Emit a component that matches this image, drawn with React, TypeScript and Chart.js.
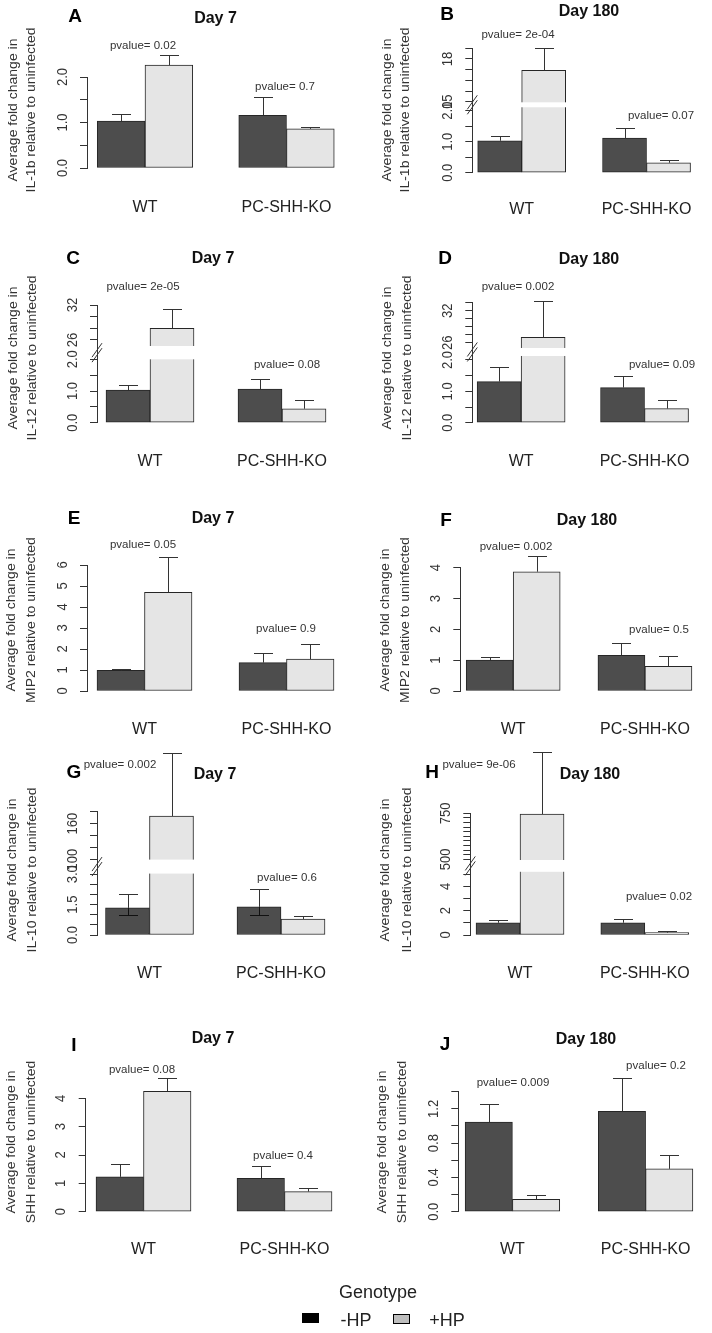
import React, { useEffect, useRef } from "react";
import { Chart, registerables } from "chart.js";

Chart.register(...registerables);

const FONT = "'Liberation Sans', Arial, Helvetica, sans-serif";

// ---------- shared labels ----------
const groups = ["WT", "PC-SHH-KO"];
const seriesLabels = ["-HP", "+HP"];
const legendTitle = "Genotype";
const yTitleTop = "Average fold change in";

// ---------- Panel A: IL-1b, Day 7 ----------
const A_negHP = [1.03, 1.16];
const A_negHPErr = [1.19, 1.56];
const A_posHP = [2.26, 0.86];
const A_posHPErr = [2.48, 0.9];
const A_pvalues = ["pvalue= 0.02", "pvalue= 0.7"];
const A_ticks = [0, 0.5, 1, 1.5, 2];
const A_tickLabels = ["0.0", "", "1.0", "", "2.0"];

// ---------- Panel B: IL-1b, Day 180 ----------
const B_negHP = [1.03, 1.12];
const B_negHPErr = [1.19, 1.43];
const B_posHP = [17.2, 0.32];
const B_posHPErr = [18.75, 0.4];
const B_pvalues = ["pvalue= 2e-04", "pvalue= 0.07"];
const B_ticks = [0, 0.5, 1, 1.5, 2, 15, 15.75, 16.5, 17.25, 18, 18.75];
const B_tickLabels = ["0.0", "", "1.0", "", "2.0", "15", "", "", "", "18", ""];
const B_break = [2, 15];

// ---------- Panel C: IL-12, Day 7 ----------
const C_negHP = [1.03, 1.06];
const C_negHPErr = [1.18, 1.37];
const C_posHP = [28.0, 0.44];
const C_posHPErr = [31.3, 0.71];
const C_pvalues = ["pvalue= 2e-05", "pvalue= 0.08"];
const C_ticks = [0, 0.5, 1, 1.5, 2, 26, 28, 30, 32];
const C_tickLabels = ["0.0", "", "1.0", "", "2.0", "26", "", "", "32"];
const C_break = [2, 26];

// ---------- Panel D: IL-12, Day 180 ----------
const D_negHP = [1.31, 1.12];
const D_negHPErr = [1.78, 1.5];
const D_posHP = [27.0, 0.45];
const D_posHPErr = [33.9, 0.71];
const D_pvalues = ["pvalue= 0.002", "pvalue= 0.09"];
const D_ticks = [0, 0.5, 1, 1.5, 2, 26, 27.5, 29, 30.5, 32, 33.5];
const D_tickLabels = ["0.0", "", "1.0", "", "2.0", "26", "", "", "", "32", ""];
const D_break = [2, 26];

// ---------- Panel E: MIP2, Day 7 ----------
const E_negHP = [0.98, 1.35];
const E_negHPErr = [1.05, 1.81];
const E_posHP = [4.7, 1.52];
const E_posHPErr = [6.4, 2.22];
const E_pvalues = ["pvalue= 0.05", "pvalue= 0.9"];
const E_ticks = [0, 1, 2, 3, 4, 5, 6];
const E_tickLabels = ["0", "1", "2", "3", "4", "5", "6"];

// ---------- Panel F: MIP2, Day 180 ----------
const F_negHP = [1.0, 1.16];
const F_negHPErr = [1.09, 1.55];
const F_posHP = [3.87, 0.8];
const F_posHPErr = [4.37, 1.15];
const F_pvalues = ["pvalue= 0.002", "pvalue= 0.5"];
const F_ticks = [0, 1, 2, 3, 4];
const F_tickLabels = ["0", "1", "2", "3", "4"];

// ---------- Panel G: IL-10, Day 7 ----------
const G_negHP = [1.34, 1.39];
const G_negHPErr = [2.0, 2.25];
const G_negHPInner = [0.98, 0.98];
const G_posHP = [172.7, 0.79];
const G_posHPErr = [279, 0.95];
const G_pvalues = ["pvalue= 0.002", "pvalue= 0.6"];
const G_ticks = [0, 0.5, 1, 1.5, 2, 2.5, 3, 100, 120, 140, 160, 180];
const G_tickLabels = ["0.0", "", "", "1.5", "", "", "3.0", "100", "", "", "160", ""];
const G_break = [3, 100];

// ---------- Panel H: IL-10, Day 180 ----------
const H_negHP = [1.01, 1.01];
const H_negHPErr = [1.24, 1.32];
const H_posHP = [746, 0.19];
const H_posHPErr = [1083, 0.3];
const H_pvalues = ["pvalue= 9e-06", "pvalue= 0.02"];
const H_ticks = [0, 1, 2, 3, 4, 5, 500, 525, 550, 575, 600, 625, 650, 675, 700, 725, 750];
const H_tickLabels = ["0", "", "2", "", "4", "", "500", "", "", "", "", "", "", "", "", "", "750"];
const H_break = [5, 500];

// ---------- Panel I: SHH, Day 7 ----------
const I_negHP = [1.23, 1.18];
const I_negHPErr = [1.69, 1.61];
const I_posHP = [4.25, 0.71];
const I_posHPErr = [4.73, 0.85];
const I_pvalues = ["pvalue= 0.08", "pvalue= 0.4"];
const I_ticks = [0, 1, 2, 3, 4];
const I_tickLabels = ["0", "1", "2", "3", "4"];

// ---------- Panel J: SHH, Day 180 ----------
const J_negHP = [1.045, 1.17];
const J_negHPErr = [1.26, 1.56];
const J_posHP = [0.144, 0.5];
const J_posHPErr = [0.2, 0.66];
const J_pvalues = ["pvalue= 0.009", "pvalue= 0.2"];
const J_ticks = [0, 0.2, 0.4, 0.6, 0.8, 1.0, 1.2, 1.4];
const J_tickLabels = ["0.0", "", "0.4", "", "0.8", "", "1.2", ""];

// ---------- styling / layout ----------
const BAR_COLORS = ["#4d4d4d", "#e5e5e5"];
const EDGE = "#262626";
const AXIS = "#333333";
const PANEL_W = 356;
const CANVAS_H = 275;
const CHART_RIGHT = 352;

type Layout = {
  col: number; canvasTop: number; axisX: number; y0: number; yTop: number;
  c: number[]; barW: number; catY: number; pv: number[][];
  title: number[]; letter: number[]; yTitleX: number[]; yTitleY: number;
  gap?: number; ratio?: number; band?: number[];
};

type PanelDef = {
  letter: string; title: string; gene: string;
  neg: number[]; negErr: number[]; pos: number[]; posErr: number[]; negInner?: number[];
  pvalues: string[]; ticks: number[]; tickLabels: string[]; brk?: number[]; L: Layout;
};

const panels: PanelDef[] = [
  { letter: "A", title: "Day 7", gene: "IL-1b", neg: A_negHP, negErr: A_negHPErr, pos: A_posHP, posErr: A_posHPErr,
    pvalues: A_pvalues, ticks: A_ticks, tickLabels: A_tickLabels,
    L: { col: 0, canvasTop: 0, axisX: 87, y0: 168, yTop: 77, c: [145, 286.5], barW: 47.75, catY: 200,
      pv: [[143, 46], [285, 87]], title: [215.5, 19], letter: [75, 16.3], yTitleX: [13.3, 32], yTitleY: 110 } },
  { letter: "B", title: "Day 180", gene: "IL-1b", neg: B_negHP, negErr: B_negHPErr, pos: B_posHP, posErr: B_posHPErr,
    pvalues: B_pvalues, ticks: B_ticks, tickLabels: B_tickLabels, brk: B_break,
    L: { col: 1, canvasTop: 0, axisX: 472.3, y0: 172.7, yTop: 48.3, c: [524.5, 656.5], barW: 44, catY: 202,
      pv: [[518, 35], [661, 116]], title: [589, 12], letter: [447, 15], yTitleX: [387.7, 406], yTitleY: 110,
      gap: 0.29, ratio: 0.459, band: [2.11, 2.27] } },
  { letter: "C", title: "Day 7", gene: "IL-12", neg: C_negHP, negErr: C_negHPErr, pos: C_posHP, posErr: C_posHPErr,
    pvalues: C_pvalues, ticks: C_ticks, tickLabels: C_tickLabels, brk: C_break,
    L: { col: 0, canvasTop: 235, axisX: 97, y0: 422.7, yTop: 305, c: [150, 282], barW: 44, catY: 454,
      pv: [[143, 287], [287, 365]], title: [213, 259], letter: [73, 258.5], yTitleX: [13.3, 33], yTitleY: 358,
      gap: 0.609, ratio: 0.184, band: [2.0, 2.42] } },
  { letter: "D", title: "Day 180", gene: "IL-12", neg: D_negHP, negErr: D_negHPErr, pos: D_posHP, posErr: D_posHPErr,
    pvalues: D_pvalues, ticks: D_ticks, tickLabels: D_tickLabels, brk: D_break,
    L: { col: 1, canvasTop: 235, axisX: 472.3, y0: 422.7, yTop: 302.7, c: [524.5, 656.5], barW: 44, catY: 454,
      pv: [[518, 287], [662, 365]], title: [589, 260], letter: [445, 258.5], yTitleX: [387.7, 408], yTitleY: 358,
      gap: 0.552, ratio: 0.17, band: [2.128, 2.383] } },
  { letter: "E", title: "Day 7", gene: "MIP2", neg: E_negHP, negErr: E_negHPErr, pos: E_posHP, posErr: E_posHPErr,
    pvalues: E_pvalues, ticks: E_ticks, tickLabels: E_tickLabels,
    L: { col: 0, canvasTop: 495, axisX: 87, y0: 691, yTop: 565, c: [144.5, 286.5], barW: 47.5, catY: 722,
      pv: [[143, 545], [286, 629]], title: [213, 519], letter: [74, 518.5], yTitleX: [11.7, 32], yTitleY: 620 } },
  { letter: "F", title: "Day 180", gene: "MIP2", neg: F_negHP, negErr: F_negHPErr, pos: F_posHP, posErr: F_posHPErr,
    pvalues: F_pvalues, ticks: F_ticks, tickLabels: F_tickLabels,
    L: { col: 1, canvasTop: 495, axisX: 460.3, y0: 691, yTop: 567.7, c: [517.5, 660], barW: 47, catY: 722,
      pv: [[516, 547], [659, 630]], title: [587, 521], letter: [446, 521], yTitleX: [386, 406], yTitleY: 620 } },
  { letter: "G", title: "Day 7", gene: "IL-10", neg: G_negHP, negErr: G_negHPErr, pos: G_posHP, posErr: G_posHPErr,
    negInner: G_negHPInner, pvalues: G_pvalues, ticks: G_ticks, tickLabels: G_tickLabels, brk: G_break,
    L: { col: 0, canvasTop: 730, axisX: 97, y0: 935, yTop: 811.7, c: [149.5, 281], barW: 44, catY: 966,
      pv: [[120, 765], [287, 878]], title: [215, 775], letter: [74, 773], yTitleX: [13, 33], yTitleY: 870,
      gap: 0.723, ratio: 0.0295, band: [3.03, 3.72] } },
  { letter: "H", title: "Day 180", gene: "IL-10", neg: H_negHP, negErr: H_negHPErr, pos: H_posHP, posErr: H_posHPErr,
    pvalues: H_pvalues, ticks: H_ticks, tickLabels: H_tickLabels, brk: H_break,
    L: { col: 1, canvasTop: 730, axisX: 470.3, y0: 935, yTop: 813.3, c: [522.7, 654.2], barW: 44, catY: 966,
      pv: [[479, 765], [659, 897]], title: [590, 775], letter: [432, 773], yTitleX: [386, 408], yTitleY: 870,
      gap: 1.237, ratio: 0.01517, band: [5.21, 6.18] } },
  { letter: "I", title: "Day 7", gene: "SHH", neg: I_negHP, negErr: I_negHPErr, pos: I_posHP, posErr: I_posHPErr,
    pvalues: I_pvalues, ticks: I_ticks, tickLabels: I_tickLabels,
    L: { col: 0, canvasTop: 1010, axisX: 85.7, y0: 1211.7, yTop: 1098.3, c: [143.5, 284.5], barW: 47.5, catY: 1242,
      pv: [[142, 1070], [283, 1156]], title: [213, 1039], letter: [74, 1045.5], yTitleX: [11.7, 31.7], yTitleY: 1142 } },
  { letter: "J", title: "Day 180", gene: "SHH", neg: J_negHP, negErr: J_negHPErr, pos: J_posHP, posErr: J_posHPErr,
    pvalues: J_pvalues, ticks: J_ticks, tickLabels: J_tickLabels,
    L: { col: 1, canvasTop: 1010, axisX: 458.3, y0: 1211.7, yTop: 1091.7, c: [515.8, 657.3], barW: 47.3, catY: 1242,
      pv: [[513, 1083], [656, 1066]], title: [586, 1040], letter: [445, 1045], yTitleX: [382.7, 402.7], yTitleY: 1142 } },
];

// broken-axis transform: real value -> display value on the linear scale
function disp(p: PanelDef, v: number): number {
  if (!p.brk || v <= p.brk[0]) return v;
  return p.brk[0] + (p.L.gap as number) + (v - p.brk[1]) * (p.L.ratio as number);
}

function drawText(ctx: CanvasRenderingContext2D, s: string, x: number, y: number,
  o: { size: number; bold?: boolean; color?: string; rotate?: boolean; across?: number; baseline?: CanvasTextBaseline; align?: CanvasTextAlign }) {
  ctx.save();
  ctx.font = `${o.bold ? "bold " : ""}${o.size}px ${FONT}`;
  ctx.fillStyle = o.color ?? "#222";
  ctx.textAlign = o.align ?? "center";
  ctx.textBaseline = o.baseline ?? "middle";
  ctx.translate(x, y);
  if (o.rotate) ctx.rotate(-Math.PI / 2);
  if (o.across) ctx.scale(1, o.across);
  ctx.fillText(s, 0, 0);
  ctx.restore();
}

function makeDecor(p: PanelDef) {
  const L = p.L;
  const lx = (x: number) => x - L.col * PANEL_W;
  const ly = (y: number) => y - L.canvasTop;
  return {
    id: "decor" + p.letter,
    afterDatasetsDraw(chart: any) {
      const ctx: CanvasRenderingContext2D = chart.ctx;
      const ys = chart.scales.y;
      const series = [p.neg, p.pos];
      const errs = [p.negErr, p.posErr];
      ctx.save();
      // white gap through bars crossing the axis break
      if (p.brk && L.band) {
        const yA = ys.getPixelForValue(L.band[0]);
        const yB = ys.getPixelForValue(L.band[1]);
        series.forEach((vals, di) => {
          const meta = chart.getDatasetMeta(di);
          meta.data.forEach((el: any, i: number) => {
            if (disp(p, vals[i]) > (L.band as number[])[1]) {
              const w = el.width;
              ctx.fillStyle = "#ffffff";
              ctx.fillRect(el.x - w / 2 - 1.5, yB, w + 3, yA - yB);
            }
          });
        });
        // break slashes on the axis
        const yc = (yA + yB) / 2;
        const ax = chart.chartArea.left;
        ctx.strokeStyle = AXIS;
        ctx.lineWidth = 1;
        for (const o of [-2.5, 2.5]) {
          ctx.beginPath();
          ctx.moveTo(ax - 5, yc + 7 + o);
          ctx.lineTo(ax + 5, yc - 7 + o);
          ctx.stroke();
        }
      }
      // error bars (upper)
      ctx.strokeStyle = AXIS;
      ctx.lineWidth = 1;
      const capHalf = 9.5;
      series.forEach((vals, di) => {
        const meta = chart.getDatasetMeta(di);
        meta.data.forEach((el: any, i: number) => {
          const x = Math.round(el.x) + 0.5;
          const top = Math.round(ys.getPixelForValue(disp(p, errs[di][i]))) + 0.5;
          ctx.beginPath();
          ctx.moveTo(x, el.y);
          ctx.lineTo(x, top);
          ctx.moveTo(x - capHalf, top);
          ctx.lineTo(x + capHalf, top);
          ctx.stroke();
          if (di === 0 && p.negInner) {
            const yi = Math.round(ys.getPixelForValue(disp(p, p.negInner[i]))) + 0.5;
            ctx.strokeStyle = "#111";
            ctx.beginPath();
            ctx.moveTo(x - capHalf, yi);
            ctx.lineTo(x + capHalf, yi);
            ctx.moveTo(x, yi);
            ctx.lineTo(x, el.y);
            ctx.stroke();
            ctx.strokeStyle = AXIS;
          }
        });
      });
      ctx.restore();
    },
    afterDraw(chart: any) {
      const ctx: CanvasRenderingContext2D = chart.ctx;
      const ys = chart.scales.y;
      // y tick labels (rotated, R style)
      p.ticks.forEach((t, i) => {
        const lab = p.tickLabels[i];
        if (!lab) return;
        drawText(ctx, lab, lx(L.axisX - 20.5), ys.getPixelForValue(disp(p, t)),
          { size: 13, rotate: true, across: 1.15, baseline: "alphabetic", color: "#333" });
      });
      // y axis title (two lines)
      drawText(ctx, yTitleTop, lx(L.yTitleX[0]), ly(L.yTitleY), { size: 14, rotate: true, across: 0.88, color: "#333" });
      drawText(ctx, `${p.gene} relative to uninfected`, lx(L.yTitleX[1]), ly(L.yTitleY), { size: 14, rotate: true, across: 0.88, color: "#333" });
      // panel title and letter
      drawText(ctx, p.title, lx(L.title[0]), ly(L.title[1]), { size: 16, bold: true, color: "#111" });
      drawText(ctx, p.letter, lx(L.letter[0]), ly(L.letter[1]), { size: 19, bold: true, color: "#000" });
      // p-values
      p.pvalues.forEach((s, i) => {
        drawText(ctx, s, lx(L.pv[i][0]), ly(L.pv[i][1]), { size: 11.5, color: "#333" });
      });
    },
  };
}

function buildConfig(p: PanelDef): any {
  const L = p.L;
  const colX = L.col * PANEL_W;
  const unit = L.c[1] - L.c[0];
  const xMin = 1 - (L.c[0] - L.axisX) / unit;
  const xMax = 2 + (colX + CHART_RIGHT - L.c[1]) / unit;
  const yMax = disp(p, p.ticks[p.ticks.length - 1]);
  const y0Local = L.y0 - L.canvasTop;
  const mk = (vals: number[]) => vals.map((v, i) => ({ x: i + 1, y: disp(p, v) }));
  return {
    type: "bar",
    data: {
      datasets: [
        { label: seriesLabels[0], data: mk(p.neg), backgroundColor: BAR_COLORS[0], borderColor: EDGE,
          borderWidth: 1, borderSkipped: false, barThickness: L.barW, clip: false },
        { label: seriesLabels[1], data: mk(p.pos), backgroundColor: BAR_COLORS[1], borderColor: EDGE,
          borderWidth: 1, borderSkipped: false, barThickness: L.barW, clip: false },
      ],
    },
    options: {
      animation: false,
      responsive: false,
      maintainAspectRatio: false,
      events: [],
      layout: {
        autoPadding: false,
        padding: { left: 0, top: L.yTop - L.canvasTop, right: PANEL_W - CHART_RIGHT, bottom: 0 },
      },
      plugins: { legend: { display: false }, title: { display: false }, tooltip: { enabled: false } },
      scales: {
        x: {
          type: "linear", min: xMin, max: xMax, offset: false,
          grid: { display: false }, border: { display: false },
          afterBuildTicks: (s: any) => { s.ticks = [{ value: 1 }, { value: 2 }]; },
          afterFit: (s: any) => { s.height = CANVAS_H - y0Local; },
          ticks: {
            autoSkip: false, maxRotation: 0, minRotation: 0,
            padding: L.catY - L.y0 - 9.6,
            font: { family: FONT, size: 16 }, color: "#222",
            callback: (_v: any, i: number) => groups[i],
          },
        },
        y: {
          type: "linear", min: 0, max: yMax,
          afterBuildTicks: (s: any) => { s.ticks = p.ticks.map((t) => ({ value: disp(p, t) })); },
          afterFit: (s: any) => { s.width = L.axisX - colX; },
          grid: { display: true, drawOnChartArea: false, drawTicks: true, tickLength: 7, color: AXIS, lineWidth: 1 },
          border: { display: true, color: AXIS, width: 1 },
          ticks: { display: false },
        },
      },
    },
    plugins: [makeDecor(p)],
  };
}

function Panel({ p }: { p: PanelDef }) {
  const ref = useRef<HTMLCanvasElement>(null);
  useEffect(() => {
    const chart = new Chart(ref.current as HTMLCanvasElement, buildConfig(p));
    return () => chart.destroy();
  }, [p]);
  return (
    <canvas
      ref={ref}
      width={PANEL_W}
      height={CANVAS_H}
      style={{ position: "absolute", left: p.L.col * PANEL_W, top: p.L.canvasTop, width: PANEL_W, height: CANVAS_H }}
    />
  );
}

const centered = (cx: number, cy: number, size: number): React.CSSProperties => ({
  position: "absolute", left: cx, top: cy, transform: "translate(-50%, -50%)",
  fontFamily: FONT, fontSize: size, lineHeight: 1, color: "#222", whiteSpace: "nowrap",
});

export default function App() {
  return (
    <div style={{ position: "absolute", left: 0, top: 0, width: 712, height: 1333, background: "#ffffff", overflow: "hidden" }}>
      {panels.map((p) => (
        <Panel key={p.letter} p={p} />
      ))}
      <div style={centered(378, 1292, 18)}>{legendTitle}</div>
      <div style={{ position: "absolute", left: 302, top: 1313, width: 17, height: 10, background: "#000" }} />
      <div style={centered(356, 1320, 18)}>{seriesLabels[0]}</div>
      <div style={{ position: "absolute", left: 393, top: 1314, width: 15, height: 8, background: "#bebebe", border: "1px solid #000" }} />
      <div style={centered(447, 1320, 18)}>{seriesLabels[1]}</div>
    </div>
  );
}
